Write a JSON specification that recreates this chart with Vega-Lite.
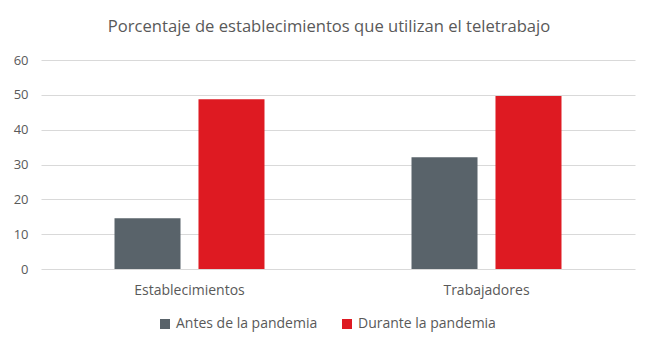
{
  "$schema": "https://vega.github.io/schema/vega-lite/v6.json",
  "width": 594,
  "height": 209,
  "autosize": {"type": "none"},
  "padding": {"left": 41, "top": 60, "right": 23, "bottom": 87},
  "background": "white",
  "title": {
    "text": "Porcentaje de establecimientos que utilizan el teletrabajo",
    "fontSize": 16.6,
    "font": "Open Sans",
    "fontWeight": "normal",
    "color": "#595959",
    "anchor": "middle",
    "dx": -9,
    "offset": 18
  },
  "data": {
    "values": [
      {"categoria": "Establecimientos", "periodo": "Antes de la pandemia", "valor": 14.6},
      {"categoria": "Establecimientos", "periodo": "Durante la pandemia", "valor": 48.7},
      {"categoria": "Trabajadores", "periodo": "Antes de la pandemia", "valor": 32.1},
      {"categoria": "Trabajadores", "periodo": "Durante la pandemia", "valor": 49.7}
    ]
  },
  "mark": {"type": "bar"},
  "encoding": {
    "x": {
      "field": "categoria",
      "type": "nominal",
      "sort": null,
      "scale": {"paddingInner": 0.495, "paddingOuter": 0.2475},
      "axis": {"title": null, "labelAngle": 0, "domain": false, "ticks": false, "labelFontSize": 14, "labelColor": "#595959", "labelFont": "Open Sans", "labelPadding": 14}
    },
    "xOffset": {
      "field": "periodo",
      "type": "nominal",
      "scale": {"paddingInner": 0.214, "paddingOuter": 0}
    },
    "y": {
      "field": "valor",
      "type": "quantitative",
      "scale": {"domain": [0, 60]},
      "axis": {"title": null, "values": [0, 10, 20, 30, 40, 50, 60], "domain": false, "ticks": false, "labelFontSize": 13, "labelColor": "#595959", "labelFont": "Open Sans", "labelPadding": 13, "gridColor": "#d9d9d9"}
    },
    "color": {
      "field": "periodo",
      "type": "nominal",
      "scale": {"domain": ["Antes de la pandemia", "Durante la pandemia"], "range": ["#59636a", "#de1a22"]},
      "legend": {"title": null, "orient": "none", "legendX": 117, "legendY": 257, "direction": "horizontal", "symbolType": "square", "symbolSize": 100, "labelFontSize": 14, "labelColor": "#595959", "labelFont": "Open Sans", "columnPadding": 22}
    }
  },
  "config": {"view": {"stroke": null}}
}
